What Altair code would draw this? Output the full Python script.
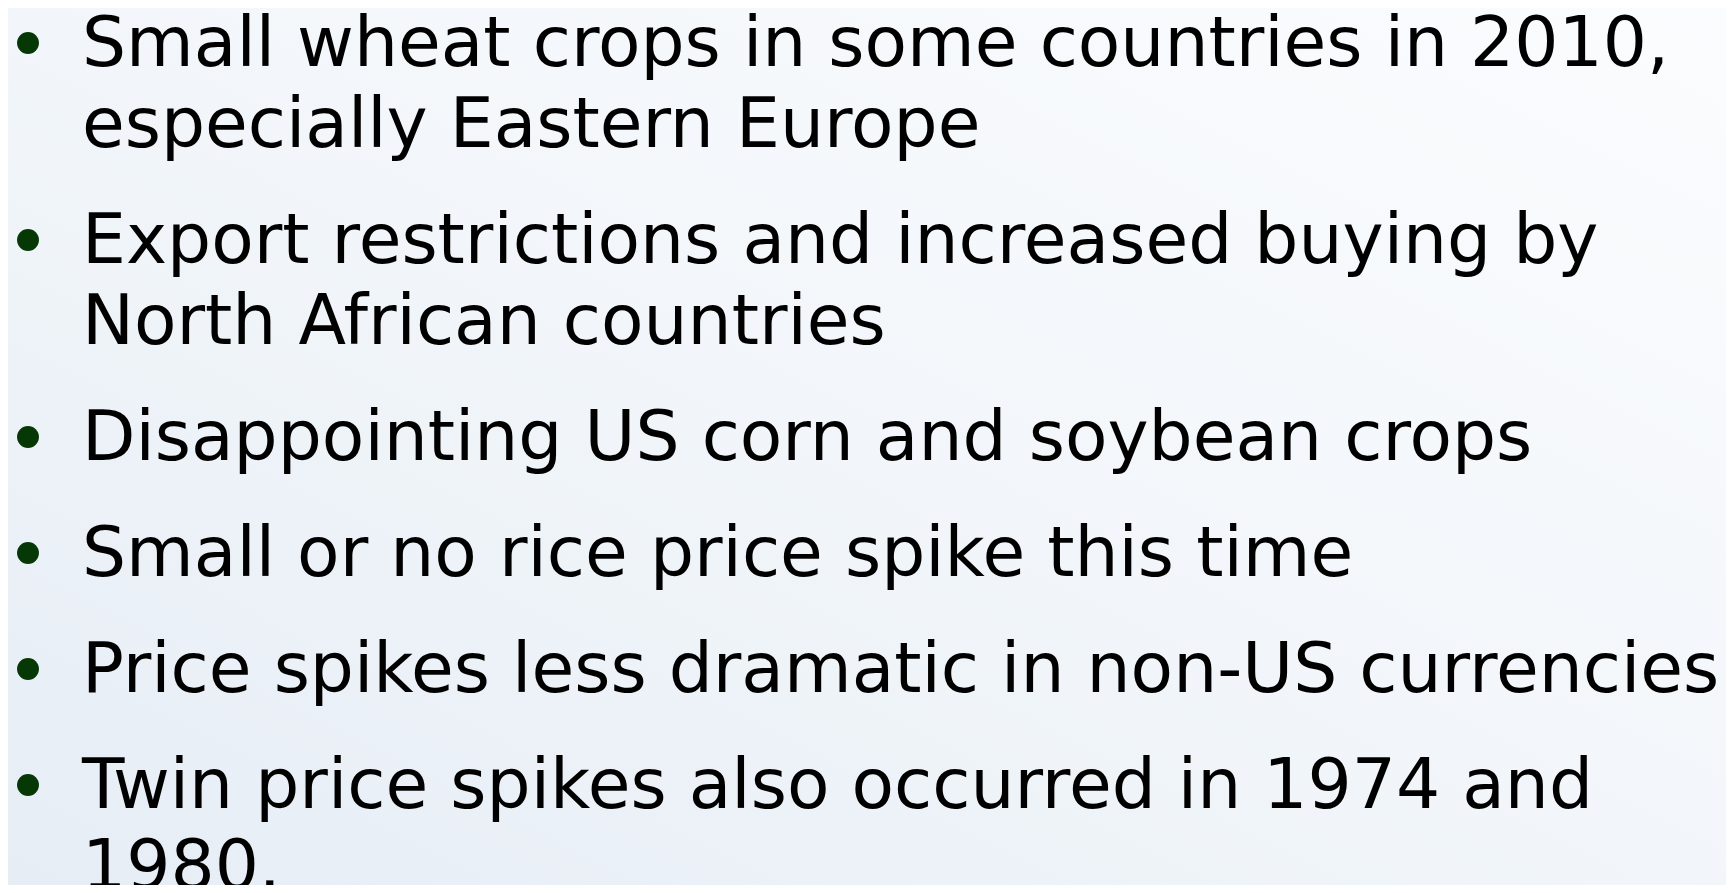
import altair as alt
import pandas as pd

# Slide content: bullet points (each bullet is a list of its wrapped lines)
bullet_1 = ["Small wheat crops in some countries in 2010,", "especially Eastern Europe"]
bullet_2 = ["Export restrictions and increased buying by", "North African countries"]
bullet_3 = ["Disappointing US corn and soybean crops"]
bullet_4 = ["Small or no rice price spike this time"]
bullet_5 = ["Price spikes less dramatic in non-US currencies"]
bullet_6 = ["Twin price spikes also occurred in 1974 and", "1980."]
bullets = [bullet_1, bullet_2, bullet_3, bullet_4, bullet_5, bullet_6]

# Layout (pixels of the chart area)
W, H = 1718, 877
FIRST_BASELINE = 58
LEADING = 81
PARA_GAP = 116
TEXT_X = 74
BULLET_X = 20
BULLET_RAISE = 23
FONT_SIZE = 69.5

rows = []
bullet_rows = []
pos = FIRST_BASELINE
for bi, lines in enumerate(bullets):
    if bi > 0:
        pos += PARA_GAP
    for li, line in enumerate(lines):
        if li > 0:
            pos += LEADING
        rows.append({"line": line, "y": pos})
        if li == 0:
            bullet_rows.append({"y": pos - BULLET_RAISE})

text_df = pd.DataFrame(rows)
bullet_df = pd.DataFrame(bullet_rows)

yscale = alt.Scale(domain=[0, H], reverse=True)

background = alt.Chart(pd.DataFrame({"a": [0]})).mark_rect(
    fill=alt.Gradient(
        gradient="linear",
        stops=[
            alt.GradientStop(color="#fbfcfe", offset=0),
            alt.GradientStop(color="#f2f6fa", offset=0.5),
            alt.GradientStop(color="#e6edf5", offset=1),
        ],
        x1=1, y1=0, x2=0, y2=1,
    )
).encode(x=alt.value(0), x2=alt.value(W), y=alt.value(0), y2=alt.value(H))

text = alt.Chart(text_df).mark_text(
    align="left", baseline="alphabetic", font="DejaVu Sans",
    fontSize=FONT_SIZE, color="#000000",
).encode(
    x=alt.value(TEXT_X),
    y=alt.Y("y:Q", scale=yscale, axis=None),
    text="line:N",
)

dots = alt.Chart(bullet_df).mark_circle(
    size=480, color="#063806", opacity=1
).encode(
    x=alt.value(BULLET_X),
    y=alt.Y("y:Q", scale=yscale, axis=None),
)

chart = alt.layer(background, dots, text).properties(
    width=W, height=H, padding=0, autosize=alt.AutoSizeParams(type="none")
).configure_view(stroke=None).configure(background="#eef3f8")

chart.save("out.html", embed_options={"renderer": "svg", "actions": False})
